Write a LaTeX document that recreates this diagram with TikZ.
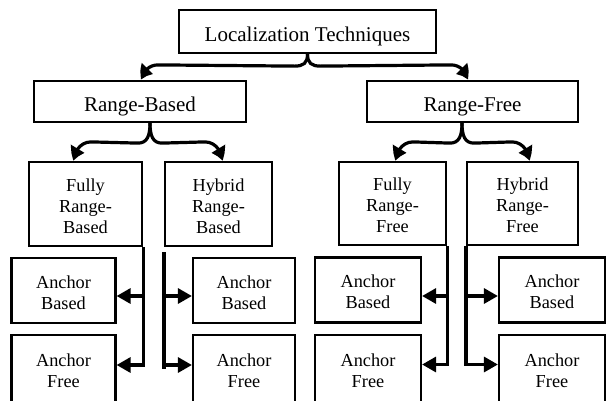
\documentclass[tikz,border=0pt]{standalone}
\usepackage{fontspec}
\setmainfont{Liberation Serif}
\usetikzlibrary{arrows.meta,calc,bending}
\begin{document}
\begin{tikzpicture}[x=1pt,y=-1pt,
  box/.style={draw,line width=2.2pt,inner sep=0pt,align=center},
  big/.style={box,font=\fontsize{21}{24}\selectfont,text height=20.8pt,text depth=0pt},
  small/.style={box,font=\fontsize{18.3}{21}\selectfont,text depth=0pt},
  three/.style={small,text height=58.6pt},
  anch/.style={small,text height=37.6pt,minimum width=104pt,minimum height=65pt},
  conn/.style={line width=3.2pt},
  tip/.style={conn,-{Triangle[length=14pt,width=15pt]}},
  btip/.style={conn,-{Triangle[length=13pt,width=15pt,bend]}}]
\clip (0,0) rectangle (611,400);

% top level
\node[big,minimum width=257pt,minimum height=43pt] (top) at (307.5,31.5) {Localization Techniques};
\node[big,minimum width=212pt,minimum height=41pt] (rb) at (140,101.5) {Range-Based};
\node[big,minimum width=211pt,minimum height=41pt] (rf) at (472.5,101.5) {Range-Free};

% second level
\node[three,minimum width=113pt,minimum height=84pt] (frb) at (85.5,204) {Fully\\Range-\\Based};
\node[three,minimum width=107pt,minimum height=84pt] (hrb) at (218.5,204) {Hybrid\\Range-\\Based};
\node[three,minimum width=107pt,minimum height=83pt] (frf) at (392.5,203.5) {Fully\\Range-\\Free};
\node[three,minimum width=111pt,minimum height=83pt] (hrf) at (522.5,203.5) {Hybrid\\Range-\\Free};

% leaves
\node[anch] (ab1) at (63.5,290.5) {Anchor\\Based};
\node[anch,minimum height=67pt] (af1) at (63.5,368.5) {Anchor\\Free};
\node[anch,minimum width=102pt] (ab2) at (244,290.5) {Anchor\\Based};
\node[anch,minimum width=102pt,minimum height=67pt] (af2) at (244,368.5) {Anchor\\Free};
\node[anch,minimum width=106pt] (ab3) at (368,290) {Anchor\\Based};
\node[anch,minimum width=106pt,minimum height=67pt] (af3) at (368,368.5) {Anchor\\Free};
\node[anch,minimum width=106pt] (ab4) at (552,290) {Anchor\\Based};
\node[anch,minimum width=106pt,minimum height=67pt] (af4) at (552,368.5) {Anchor\\Free};

% braces from the root
\coordinate (t0) at (top.south);
\coordinate (tl) at ($(rb.north)+(2,0)$);
\coordinate (tr) at ($(rf.north)+(-5.5,0)$);
\draw[btip] (t0) .. controls +(0,9) and +(9,0) .. ($(t0)+(-13,12)$)
  -- ($(tl)+(16,-15)$) .. controls +(-9,0) and +(0,-8) .. (tl);
\draw[btip] (t0) .. controls +(0,9) and +(-9,0) .. ($(t0)+(13,12)$)
  -- ($(tr)+(-16,-15)$) .. controls +(9,0) and +(0,-8) .. (tr);

% braces from Range-Based
\coordinate (s1) at ($(rb.south)+(10,0)$);
\coordinate (l1) at ($(frb.north)+(-11.5,0)$);
\coordinate (r1) at ($(hrb.north)+(3.5,0)$);
\draw[btip] (s1) .. controls +(0,13) and +(9,0) .. ($(s1)+(-12,20)$)
  -- ($(l1)+(17,-19)$) .. controls +(-10,0) and +(0,-10) .. (l1);
\draw[btip] (s1) .. controls +(0,13) and +(-9,0) .. ($(s1)+(12,20)$)
  -- ($(r1)+(-17,-19)$) .. controls +(10,0) and +(0,-10) .. (r1);

% braces from Range-Free
\coordinate (s2) at ($(rf.south)+(-10.5,0)$);
\coordinate (l2) at ($(frf.north)+(3.5,0)$);
\coordinate (r2) at ($(hrf.north)+(6.5,0)$);
\draw[btip] (s2) .. controls +(0,13) and +(9,0) .. ($(s2)+(-12,20)$)
  -- ($(l2)+(17,-19)$) .. controls +(-10,0) and +(0,-10) .. (l2);
\draw[btip] (s2) .. controls +(0,13) and +(-9,0) .. ($(s2)+(12,20)$)
  -- ($(r2)+(-17,-19)$) .. controls +(10,0) and +(0,-10) .. (r2);

% entry points on the leaves
\coordinate (ab1in) at ($(ab1.east)+(0,5.5)$);
\coordinate (af1in) at ($(af1.east)+(0,-3.5)$);
\coordinate (ab2in) at ($(ab2.west)+(0,5.5)$);
\coordinate (af2in) at ($(af2.west)+(0,-3.5)$);
\coordinate (ab3in) at ($(ab3.east)+(0,6)$);
\coordinate (af3in) at ($(af3.east)+(0,-4)$);
\coordinate (ab4in) at ($(ab4.west)+(0,6)$);
\coordinate (af4in) at ($(af4.west)+(0,-4)$);

% Fully Range-Based
\draw[tip] (frb.south east) |- (af1in);
\draw[tip] (frb.south east |- ab1in) -- (ab1in);

% Hybrid Range-Based
\draw[conn] ($(hrb.south west)+(0,5)$) -- ($(hrb.south west |- af2in)+(0,3.5)$);
\draw[tip] (hrb.south west |- ab2in) -- (ab2in);
\draw[tip] (hrb.south west |- af2in) -- (af2in);

% Fully Range-Free
\draw[tip] (frf.south east) |- (af3in);
\draw[tip] (frf.south east |- ab3in) -- (ab3in);

% Hybrid Range-Free
\draw[tip] (hrf.south west) |- (af4in);
\draw[tip] (hrf.south west |- ab4in) -- (ab4in);
\end{tikzpicture}
\end{document}
